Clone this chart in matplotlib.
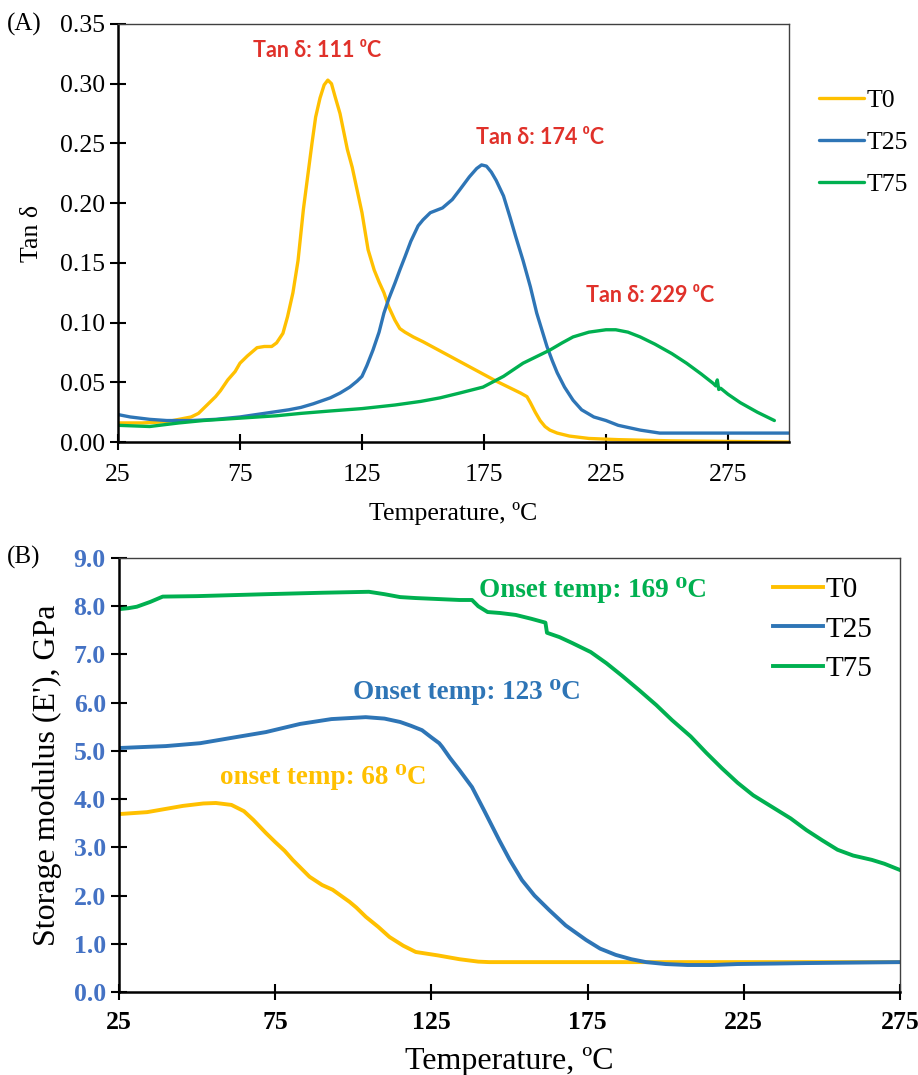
import matplotlib
matplotlib.use("Agg")
import matplotlib.pyplot as plt
import numpy as np

plt.rcParams['font.family'] = ['Liberation Serif', 'DejaVu Serif']
plt.rcParams['mathtext.fontset'] = 'stix'

# ---- (A) tan delta ----
a_t0_x = [25, 35, 45, 50, 55, 58, 62, 65, 67, 70, 73, 75, 78, 82, 85, 88, 90, 92.6, 94.5, 96.7, 98.8, 101,
          104.5, 106, 107.8, 109.5, 111, 112.5, 114, 116, 119, 121, 123, 125, 127.5, 130, 132, 134, 136, 138.5,
          140.5, 142.6, 146, 150, 160, 170, 180, 190, 192.6, 194, 196, 198, 200, 202, 205, 210, 218, 230, 252, 300]
a_t0_y = [0.016, 0.016, 0.017, 0.019, 0.021, 0.024, 0.032, 0.038, 0.043, 0.052, 0.059, 0.066, 0.072, 0.079, 0.080,
          0.080, 0.083, 0.091, 0.105, 0.125, 0.152, 0.195, 0.250, 0.272, 0.288, 0.299, 0.303, 0.300, 0.289, 0.275,
          0.245, 0.230, 0.211, 0.192, 0.161, 0.144, 0.134, 0.125, 0.113, 0.102, 0.095, 0.092, 0.088, 0.084, 0.073,
          0.062, 0.051, 0.041, 0.038, 0.033, 0.025, 0.018, 0.013, 0.010, 0.0075, 0.005, 0.003, 0.002, 0.001, 0.0]

a_t25_x = [25, 30, 38, 45, 55, 65, 75, 85, 95, 100, 105, 112, 116, 120, 123, 125, 127, 129.5, 132, 134, 136, 138.5,
           140.5, 142.6, 145, 148, 150, 153, 158, 162, 165, 169, 172, 174, 176, 178, 180, 183, 185.7, 188, 191, 194,
           196.6, 200.8, 203, 205, 208, 211.5, 215, 220, 225, 230, 239, 247, 300]
a_t25_y = [0.023, 0.021, 0.019, 0.018, 0.018, 0.019, 0.021, 0.024, 0.027, 0.029, 0.032, 0.037, 0.041, 0.046, 0.051,
           0.055, 0.064, 0.077, 0.092, 0.108, 0.120, 0.133, 0.144, 0.155, 0.168, 0.181, 0.186, 0.192, 0.196, 0.203,
           0.211, 0.222, 0.229, 0.232, 0.231, 0.226, 0.219, 0.206, 0.188, 0.172, 0.152, 0.130, 0.108, 0.080, 0.068,
           0.058, 0.046, 0.035, 0.027, 0.021, 0.018, 0.014, 0.010, 0.0075, 0.0075]

a_t75_x = [25, 38, 50, 60, 75, 90, 100, 112, 125, 138.5, 149, 157, 165, 174.6, 183, 191, 197, 202, 207, 211.5, 218,
           225, 229, 234, 239, 245, 252, 258, 264, 269, 270, 270.6, 271.2, 272, 275, 280, 287, 294]
a_t75_y = [0.014, 0.013, 0.016, 0.018, 0.020, 0.022, 0.024, 0.026, 0.028, 0.031, 0.034, 0.037, 0.041, 0.046, 0.055,
           0.066, 0.072, 0.077, 0.083, 0.088, 0.092, 0.094, 0.094, 0.092, 0.088, 0.082, 0.074, 0.066, 0.057, 0.049,
           0.047, 0.052, 0.044, 0.045, 0.040, 0.033, 0.025, 0.018]

# ---- (B) storage modulus ----
b_t0_x = [25, 34, 45.5, 52, 56, 61, 65, 68, 72, 75, 78, 80.6, 86, 90, 93.4, 98.8, 101, 104, 108, 111.6, 116, 120,
          127, 134, 140, 143.5, 160, 200, 275]
b_t0_y = [3.69, 3.73, 3.86, 3.91, 3.92, 3.88, 3.75, 3.57, 3.30, 3.11, 2.93, 2.74, 2.39, 2.22, 2.12, 1.87, 1.75, 1.56,
          1.35, 1.14, 0.96, 0.83, 0.76, 0.68, 0.63, 0.62, 0.62, 0.62, 0.62]

b_t25_x = [25, 40, 51, 61, 72, 83, 93, 104, 110, 115, 118.5, 122, 125, 127.5, 128.5, 131, 134, 138, 142, 146.7, 150,
           154, 158, 162.7, 168, 174.5, 179, 184, 189, 193.7, 200, 207, 215, 223, 235, 245, 275]
b_t25_y = [5.06, 5.10, 5.16, 5.27, 5.39, 5.56, 5.66, 5.70, 5.67, 5.60, 5.52, 5.43, 5.28, 5.16, 5.08, 4.85, 4.60,
           4.25, 3.75, 3.15, 2.75, 2.32, 2.00, 1.70, 1.38, 1.08, 0.90, 0.77, 0.68, 0.62, 0.58, 0.56, 0.56, 0.58,
           0.59, 0.60, 0.62]

b_t75_x = [25, 28, 30.7, 35, 39, 50, 72, 90, 105, 110, 115, 120, 134, 138, 140, 143, 147, 152, 157, 161.5, 162, 166,
           170, 176, 181, 186, 191.5, 197, 202, 208, 213, 218, 223, 228, 234, 240, 245, 250, 255, 260, 266, 270, 275]
b_t75_y = [7.94, 7.96, 7.99, 8.09, 8.20, 8.21, 8.25, 8.28, 8.30, 8.25, 8.19, 8.17, 8.13, 8.13, 8.00, 7.88, 7.86,
           7.82, 7.74, 7.66, 7.45, 7.36, 7.24, 7.05, 6.82, 6.56, 6.26, 5.95, 5.64, 5.30, 4.96, 4.64, 4.34, 4.08,
           3.84, 3.60, 3.36, 3.15, 2.95, 2.83, 2.74, 2.66, 2.53]

labels = ['T0', 'T25', 'T75']
colors = ['#FFC000', '#2E75B6', '#00B050']
a_notes = ['Tan δ: 111 ⁰C', 'Tan δ: 174 ⁰C', 'Tan δ: 229 ⁰C']
b_notes = ['onset temp: 68 ⁰C', 'Onset temp: 123 ⁰C', 'Onset temp: 169 ⁰C']


def style_box(ax):
    for s in ['left', 'bottom']:
        ax.spines[s].set_linewidth(1.8)
        ax.spines[s].set_color('black')
    for s in ['top', 'right']:
        ax.spines[s].set_linewidth(1.0)
        ax.spines[s].set_color('#404040')
    ax.tick_params(direction='inout', length=12, width=1.5, top=False, right=False)


fig = plt.figure(figsize=(9.18, 10.75), dpi=100)

# panel A
axA = fig.add_axes([0.1285, 0.5888, 0.731, 0.3889])
for xs, ys, lab, c in zip([a_t0_x, a_t25_x, a_t75_x], [a_t0_y, a_t25_y, a_t75_y], labels, colors):
    axA.plot(xs, ys, color=c, lw=2.4, label=lab, solid_capstyle='round')
axA.set_xlim(25, 300)
axA.set_ylim(0, 0.35)
axA.set_xticks([25, 75, 125, 175, 225, 275])
axA.set_yticks(np.arange(0, 0.36, 0.05))
axA.yaxis.set_major_formatter(matplotlib.ticker.FormatStrFormatter('%.2f'))
style_box(axA)
axA.tick_params(labelsize=18.5)
axA.tick_params(axis='x', pad=10)
axA.set_xlabel('Temperature, ºC', fontsize=18.5, labelpad=11)
axA.set_ylabel('Tan δ', fontsize=18.5, labelpad=12)
fig.text(0.008, 0.977, '(A)', fontsize=18, va='center')
ann_font = ['Lato', 'DejaVu Sans']
axA.text(106.6, 0.328, a_notes[0], color='#E0312A', fontsize=15.5, fontweight='bold', ha='center', va='center',
         family=ann_font)
axA.text(198, 0.2546, a_notes[1], color='#E0312A', fontsize=15.5, fontweight='bold', ha='center', va='center',
         family=ann_font)
axA.text(243, 0.123, a_notes[2], color='#E0312A', fontsize=15.5, fontweight='bold', ha='center', va='center',
         family=ann_font)
axA.legend(loc='upper left', bbox_to_anchor=(0.881, 0.9265), bbox_transform=fig.transFigure, frameon=False,
           fontsize=18.5, handlelength=1.75, labelspacing=0.73, handletextpad=0.1, borderaxespad=0)

# panel B
axB = fig.add_axes([0.1296, 0.0772, 0.8508, 0.4037])
for xs, ys, lab, c in zip([b_t0_x, b_t25_x, b_t75_x], [b_t0_y, b_t25_y, b_t75_y], labels, colors):
    axB.plot(xs, ys, color=c, lw=2.8, label=lab)
axB.set_xlim(25, 275)
axB.set_ylim(0, 9)
axB.set_xticks([25, 75, 125, 175, 225, 275])
axB.set_yticks(np.arange(0, 9.1, 1.0))
axB.yaxis.set_major_formatter(matplotlib.ticker.FormatStrFormatter('%.1f'))
style_box(axB)
axB.tick_params(labelsize=18.5)
axB.tick_params(axis='x', pad=8)
for t in axB.get_xticklabels():
    t.set_fontweight('bold')
for t in axB.get_yticklabels():
    t.set_fontweight('bold')
    t.set_color('#4472C4')
axB.set_xlabel('Temperature, ºC', fontsize=23, labelpad=9)
axB.set_ylabel("Storage modulus (E'), GPa", fontsize=23, labelpad=8)
fig.text(0.008, 0.481, '(B)', fontsize=18, va='center')
axB.text(90.5, 4.46, b_notes[0], color='#FFC000', fontsize=19.5, fontweight='bold', ha='center', va='center')
axB.text(136.5, 6.22, b_notes[1], color='#2E75B6', fontsize=19.5, fontweight='bold', ha='center', va='center')
axB.text(176.8, 8.34, b_notes[2], color='#00B050', fontsize=19.5, fontweight='bold', ha='center', va='center')
axB.legend(loc='upper left', bbox_to_anchor=(0.829, 0.4744), bbox_transform=fig.transFigure, frameon=False,
           fontsize=21, handlelength=1.72, labelspacing=0.45, handletextpad=0.1, borderaxespad=0)

fig.savefig('out.png', dpi=100)
